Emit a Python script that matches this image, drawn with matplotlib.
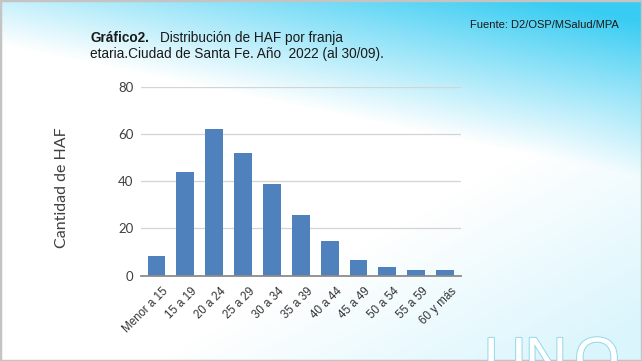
import numpy as np
import matplotlib
matplotlib.use("Agg")
import matplotlib.pyplot as plt
from matplotlib import patheffects
from matplotlib.patches import Rectangle
from matplotlib.transforms import ScaledTranslation

# Data
franjas = ["Menor a 15", "15 a 19", "20 a 24", "25 a 29", "30 a 34", "35 a 39",
           "40 a 44", "45 a 49", "50 a 54", "55 a 59", "60 y más"]
cantidad = [8.5, 44, 62, 52, 39, 25.5, 14.5, 6.5, 3.5, 2.5, 2.5]
y_ticks = [0, 20, 40, 60, 80]

W, H = 642, 361
fig = plt.figure(figsize=(W / 100, H / 100), dpi=100)

# Slide background: light blue gradient at the top and a faint one bottom right
bg = fig.add_axes([0, 0, 1, 1], zorder=-10)
xx, yy = np.meshgrid(np.linspace(0, 1, W), np.linspace(0, 1, H))
t_top = np.clip(0.85 * xx + 0.28 - 2.3 * yy, 0, 1)
t_bot = np.clip(1.6 * (xx - 0.55) + 1.6 * (yy - 0.7), 0, 1) * 0.18
t = np.clip(t_top + t_bot, 0, 1)
cyan = np.array([0.22, 0.80, 0.95])
img = 1 - t[..., None] * (1 - cyan)
bg.imshow(img, extent=[0, 1, 0, 1], origin="upper", aspect="auto")
bg.add_patch(Rectangle((0, 0), 1, 1, fill=False, edgecolor="#c4c4c4",
                       linewidth=2.5, transform=bg.transAxes))
bg.set_xlim(0, 1)
bg.set_ylim(0, 1)
bg.axis("off")

# UNO watermark, only its top shows above the bottom edge
for letra, cx in zip("UNO", [505, 546, 597]):
    t_uno = bg.text(cx / W, 1 - 378 / H, letra, fontsize=42,
                    family="Liberation Sans", color="white", ha="center",
                    va="baseline", transform=bg.transAxes, clip_on=True)
    t_uno.set_path_effects([patheffects.Stroke(linewidth=1.4, foreground="#93d7ea"),
                            patheffects.Normal()])

# Chart
ax = fig.add_axes([0.219, 0.2363, 0.499, 0.5235])
ax.patch.set_alpha(0)
x = np.arange(len(franjas))
ax.bar(x, cantidad, width=0.62, color="#4f81bd", zorder=3)
ax.set_xlim(-0.55, len(franjas) - 0.45)
ax.set_ylim(0, 80)
ax.set_yticks(y_ticks)
ax.grid(axis="y", color="#d4d4d4", linewidth=0.9, zorder=0)
for s in ["top", "right", "left"]:
    ax.spines[s].set_visible(False)
ax.spines["bottom"].set_color("#8c8c8c")
ax.spines["bottom"].set_linewidth(1.3)
ax.spines["bottom"].set_zorder(4)
ax.tick_params(length=0)
ax.tick_params(axis="y", labelsize=9.5, labelcolor="#404040", pad=5)
for lab in ax.get_yticklabels():
    lab.set_family("Lato")
ax.set_xticks(x)
ax.set_xticklabels(franjas, rotation=45, ha="right", rotation_mode="anchor",
                   fontsize=8.3, family="Liberation Sans", color="#333333")
ax.tick_params(axis="x", pad=4)
shift = ScaledTranslation(6 / 100, -4 / 100, fig.dpi_scale_trans)
for lab in ax.get_xticklabels():
    lab.set_transform(lab.get_transform() + shift)

fig.text(62 / W, 1 - 188 / H, "Cantidad de HAF", rotation=90, ha="center",
         va="center", fontsize=11.5, family="Lato", color="#404040")

# Title and source
fig.text(91 / W, 1 - 38 / H, "Gráfico2.", fontsize=9.8, fontweight="bold",
         family="Liberation Sans", color="#1a1a1a", va="center")
fig.text(160 / W, 1 - 38 / H, "Distribución de HAF por franja", fontsize=9.8,
         family="Liberation Sans", color="#1a1a1a", va="center")
fig.text(90 / W, 1 - 54 / H, "etaria.Ciudad de Santa Fe. Año  2022 (al 30/09).",
         fontsize=9.8, family="Liberation Sans", color="#1a1a1a", va="center")
fig.text(470 / W, 1 - 25 / H, "Fuente: D2/OSP/MSalud/MPA", fontsize=8,
         family="Liberation Sans", color="#1a1a1a", va="center")

fig.savefig("out.png", dpi=100)
